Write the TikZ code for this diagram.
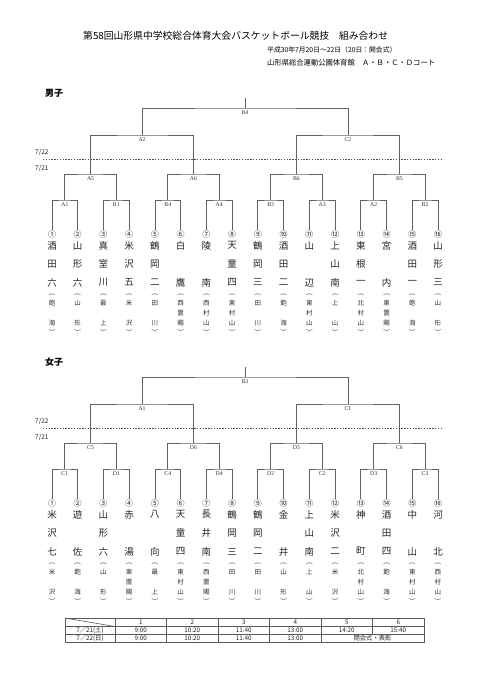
\documentclass[tikz,border=0pt]{standalone}
\usepackage{fontspec}
\setmainfont{Liberation Serif}
\newfontfamily\jp{Noto Sans CJK JP}
\newcommand\teamcol[8]{%
  \pgfmathsetmacro\tx{52+(#1-1)*25.733}%
  \node[numtxt] (num#1) at (\tx,234) {#2};
  \node[bigtxt] (ca#1) at (\tx,245.5) {#3};
  \node[bigtxt] (cb#1) at (\tx,264) {#4};
  \node[bigtxt] (cc#1) at (\tx,282.5) {#5};
  \node[partxt] (po#1) at (\tx,294.5) {(};
  \node[regtxt] (ra#1) at (\tx,303) {#6};
  \node[regtxt] (rb#1) at (\tx,313) {#7};
  \node[regtxt] (rc#1) at (\tx,323) {#8};
  \node[partxt] (pc#1) at (\tx,330.5) {)};
}
\newcommand\drawtree[4]{%
  \foreach \i in {1,...,16}{\coordinate (t\i) at ({52+(\i-1)*25.733},230);}
  \foreach \lab [count=\j] in {#1}{%
    \pgfmathsetmacro\xm{52+(2*\j-1.5)*25.733}%
    \coordinate (m\j) at (\xm,200);
    \node[labtxt] (lm\j) at (\xm,204.3) {\lab};}
  \foreach \lab [count=\j] in {#2}{%
    \pgfmathsetmacro\xm{52+(4*\j-2.5)*25.733}%
    \coordinate (n\j) at (\xm,174);
    \node[labtxt] (ln\j) at (\xm,178.5) {\lab};}
  \foreach \lab [count=\j] in {#3}{%
    \pgfmathsetmacro\xm{52+(8*\j-4.5)*25.733}%
    \coordinate (p\j) at (\xm,135);
    \node[labtxt] (lp\j) at (\xm,139.5) {\lab};}
  \coordinate (r) at (245,108);
  \coordinate (s) at (245,98);
  \node[labtxt] (lr) at (245,112.5) {#4};
  \foreach \j in {1,...,8}{%
    \pgfmathtruncatemacro\a{2*\j-1}\pgfmathtruncatemacro\b{2*\j}%
    \draw[br] (t\a) |- (m\j) -| (t\b);}
  \foreach \j in {1,...,4}{%
    \pgfmathtruncatemacro\a{2*\j-1}\pgfmathtruncatemacro\b{2*\j}%
    \draw[br] (m\a) |- (n\j) -| (m\b);}
  \foreach \j in {1,2}{%
    \pgfmathtruncatemacro\a{2*\j-1}\pgfmathtruncatemacro\b{2*\j}%
    \draw[br] (n\a) |- (p\j) -| (n\b);}
  \draw[br] (p1) |- (r) -| (p2);
  \draw[br] (r) -- (s);
  \coordinate (dl) at (43,159);
  \coordinate (dr) at (442,159);
  \draw[dayline] (dl) -- (dr);
  \node[datetxt, anchor=west] (d22) at (35,152) {7/22};
  \node[datetxt, anchor=west] (d21) at (35,168) {7/21};
}
\tikzset{
  br/.style={draw=black!62, line width=0.8pt},
  dayline/.style={draw=black!70, line width=0.6pt, dash pattern=on 1.4pt off 1.4pt},
  labtxt/.style={font=\fontsize{5.8}{5.8}\selectfont, inner sep=0pt, text=black!80},
  bigtxt/.style={font=\jp\fontsize{9.5}{9.5}\selectfont, inner sep=0pt, text=black!85},
  numtxt/.style={font=\jp\fontsize{8}{8}\selectfont, inner sep=0pt, text=black!85},
  regtxt/.style={font=\jp\fontsize{6.5}{6.5}\selectfont, inner sep=0pt, text=black!80},
  partxt/.style={font=\jp\fontsize{6.5}{6.5}\selectfont, inner sep=0pt, rotate=-90, text=black!80},
  datetxt/.style={font=\jp\fontsize{6.5}{6.5}\selectfont, inner sep=0pt, text=black!85},
  sextxt/.style={font=\jp\bfseries\fontsize{9}{9}\selectfont, inner sep=0pt, anchor=west},
  tabtxt/.style={font=\jp\fontsize{6.3}{6.3}\selectfont, inner sep=0pt, text=black!85},
  tab/.style={draw=black!65, line width=0.6pt},
}
\begin{document}
\begin{tikzpicture}[x=1pt,y=-1pt]
\fill[white] (0,0) rectangle (481,680);
\path[use as bounding box] (0,0) rectangle (481,680);
% titles
\node[font=\jp\fontsize{9.8}{10}\selectfont, inner sep=0pt, anchor=west] (title) at (83,36) {第58回山形県中学校総合体育大会バスケットボール競技　組み合わせ};
\node[font=\jp\fontsize{6.8}{7}\selectfont, inner sep=0pt, anchor=west] (date) at (267,49.5) {平成30年7月20日～22日（20日：開会式）};
\node[font=\jp\fontsize{7.3}{7.5}\selectfont, inner sep=0pt, anchor=west] (place) at (267,63) {山形県総合運動公園体育館　Ａ・Ｂ・Ｃ・Ｄコート};
% men
\begin{scope}[name prefix=m-]
\node[sextxt] (sex) at (45,93) {男子};
\drawtree{A1,B1,B4,A4,B3,A3,A2,B2}{A5,A6,B6,B5}{A2,C2}{B4}
\teamcol{1}{①}{酒}{田}{六}{飽}{}{海}
\teamcol{2}{②}{山}{形}{六}{山}{}{形}
\teamcol{3}{③}{真}{室}{川}{最}{}{上}
\teamcol{4}{④}{米}{沢}{五}{米}{}{沢}
\teamcol{5}{⑤}{鶴}{岡}{二}{田}{}{川}
\teamcol{6}{⑥}{白}{}{鷹}{西}{置}{賜}
\teamcol{7}{⑦}{陵}{}{南}{西}{村}{山}
\teamcol{8}{⑧}{天}{童}{四}{東}{村}{山}
\teamcol{9}{⑨}{鶴}{岡}{三}{田}{}{川}
\teamcol{10}{⑩}{酒}{田}{二}{飽}{}{海}
\teamcol{11}{⑪}{山}{}{辺}{東}{村}{山}
\teamcol{12}{⑫}{上}{山}{南}{上}{}{山}
\teamcol{13}{⑬}{東}{根}{一}{北}{村}{山}
\teamcol{14}{⑭}{宮}{}{内}{東}{置}{賜}
\teamcol{15}{⑮}{酒}{田}{一}{飽}{}{海}
\teamcol{16}{⑯}{山}{形}{三}{山}{}{形}
\end{scope}
% women
\begin{scope}[yshift=-269pt, name prefix=w-]
\node[sextxt] (sex) at (45,93) {女子};
\drawtree{C1,D1,C4,D4,D2,C2,D3,C3}{C5,D6,D5,C6}{A1,C1}{B3}
\teamcol{1}{①}{米}{沢}{七}{米}{}{沢}
\teamcol{2}{②}{遊}{}{佐}{飽}{}{海}
\teamcol{3}{③}{山}{形}{六}{山}{}{形}
\teamcol{4}{④}{赤}{}{湯}{東}{置}{賜}
\teamcol{5}{⑤}{八}{}{向}{最}{}{上}
\teamcol{6}{⑥}{天}{童}{四}{東}{村}{山}
\teamcol{7}{⑦}{長}{井}{南}{西}{置}{賜}
\teamcol{8}{⑧}{鶴}{岡}{三}{田}{}{川}
\teamcol{9}{⑨}{鶴}{岡}{二}{田}{}{川}
\teamcol{10}{⑩}{金}{}{井}{山}{}{形}
\teamcol{11}{⑪}{上}{山}{南}{上}{}{山}
\teamcol{12}{⑫}{米}{沢}{二}{米}{}{沢}
\teamcol{13}{⑬}{神}{}{町}{北}{村}{山}
\teamcol{14}{⑭}{酒}{田}{四}{飽}{}{海}
\teamcol{15}{⑮}{中}{}{山}{東}{村}{山}
\teamcol{16}{⑯}{河}{}{北}{西}{村}{山}
\end{scope}
% schedule table
\draw[tab] (65,618) rectangle (424,642.5);
\draw[tab] (65,626.5) -- (424,626.5);
\draw[tab] (65,634.5) -- (424,634.5);
\draw[tab] (65,618) -- (115,626.5);
\foreach \cx in {115,166.5,218,269.5,321}{\draw[tab] (\cx,618) -- (\cx,642.5);}
\draw[tab] (372.5,618) -- (372.5,634.5);
\foreach \k [count=\c] in {1,2,3,4,5,6}{%
  \node[tabtxt] (h\c) at ({115+(\c-0.5)*51.5},622.3) {\k};}
\node[tabtxt] (r1) at (90,630.5) {7／21(土)};
\node[tabtxt] (r2) at (90,638.5) {7／22(日)};
\foreach \k [count=\c] in {9:00,10:20,11:40,13:00,14:20,15:40}{%
  \node[tabtxt] (a\c) at ({115+(\c-0.5)*51.5},630.5) {\k};}
\foreach \k [count=\c] in {9:00,10:20,11:40,13:00}{%
  \node[tabtxt] (b\c) at ({115+(\c-0.5)*51.5},638.5) {\k};}
\node[tabtxt] (b5) at (372.5,638.5) {閉会式・表彰};
\end{tikzpicture}
\end{document}
